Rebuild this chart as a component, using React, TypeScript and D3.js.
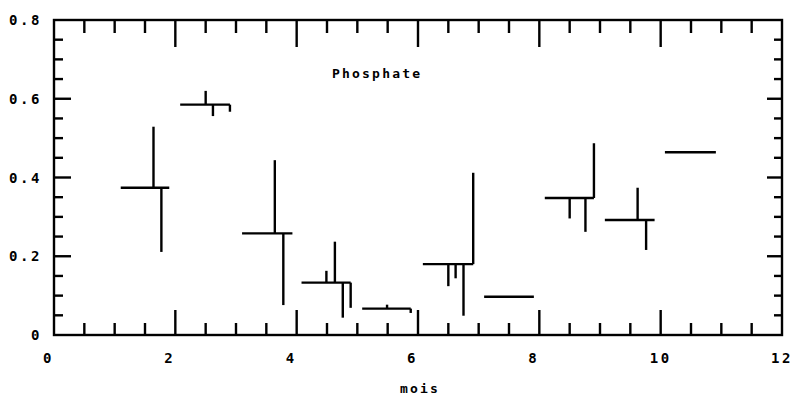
import React from "react";
import * as d3 from "d3";

const segStart = [1.1, 2.08, 3.1, 4.08, 5.08, 6.08, 7.09, 8.09, 9.08, 10.07];
const segEnd = [1.9, 2.9, 3.93, 4.89, 5.88, 6.91, 7.91, 8.9, 9.9, 10.91];
const segMean = [0.374, 0.585, 0.258, 0.133, 0.067, 0.18, 0.097, 0.348, 0.292, 0.464];

const spikeSeg = [0, 0, 1, 1, 1, 2, 2, 3, 3, 3, 3, 4, 4, 5, 5, 5, 5, 7, 7, 7, 8, 8];
const spikeX = [1.64, 1.77, 2.5, 2.62, 2.9, 3.64, 3.78, 4.49, 4.63, 4.76, 4.89, 5.49, 5.88, 6.91, 6.5, 6.62, 6.75, 8.9, 8.5, 8.76, 9.62, 9.76];
const spikeEnd = [0.529, 0.211, 0.62, 0.556, 0.567, 0.444, 0.076, 0.163, 0.237, 0.044, 0.069, 0.077, 0.056, 0.412, 0.124, 0.144, 0.049, 0.487, 0.296, 0.262, 0.374, 0.216];

const xTickLabels = ["0", "2", "4", "6", "8", "10", "12"];
const yTickLabels = ["0", "0.2", "0.4", "0.6", "0.8"];
const title = "Phosphate";
const xTitle = "mois";

export default function App() {
  const W = 792, H = 397;
  const x = d3.scaleLinear().domain([0, 12]).range([54, 782]);
  const y = d3.scaleLinear().domain([0, 0.8]).range([335, 20]);
  const sw = 2.4;
  const font = "'DejaVu Sans Mono', monospace";

  const xMinor = d3.range(0, 12.001, 0.5);
  const yMinor = d3.range(0, 0.8001, 0.05);

  const isMajorX = (v: number) => Math.abs(v / 2 - Math.round(v / 2)) < 1e-6;
  const isMajorY = (v: number) => Math.abs(v / 0.2 - Math.round(v / 0.2)) < 1e-6;

  return (
    <div style={{ position: "absolute", left: 0, top: 0 }}>
      <svg width={W} height={H} style={{ display: "block", background: "#fff" }}>
        <g stroke="#000" strokeWidth={sw} fill="none">
          <rect x={x(0)} y={y(0.8)} width={x(12) - x(0)} height={y(0) - y(0.8)} />
          {xMinor.map((v, i) => {
            if (v === 0 || v === 12) return null;
            const maj = isMajorX(v);
            const px = x(v);
            return (
              <g key={"xt" + i}>
                <line x1={px} x2={px} y1={y(0)} y2={y(0) - (maj ? 25 : 12)} />
                <line x1={px} x2={px} y1={y(0.8)} y2={y(0.8) + (maj ? 27 : 13)} />
              </g>
            );
          })}
          {yMinor.map((v, i) => {
            if (i === 0 || i === yMinor.length - 1) return null;
            const maj = isMajorY(v);
            const py = y(v);
            return (
              <g key={"yt" + i}>
                <line x1={x(0)} x2={x(0) + (maj ? 17 : 9)} y1={py} y2={py} />
                <line x1={x(12)} x2={x(12) - (maj ? 15 : 8)} y1={py} y2={py} />
              </g>
            );
          })}
        </g>
        <g stroke="#000" strokeWidth={sw} fill="none">
          {segMean.map((m, i) => (
            <line key={"s" + i} x1={x(segStart[i])} x2={x(segEnd[i])} y1={y(m)} y2={y(m)} />
          ))}
          {spikeX.map((sx, i) => (
            <line key={"k" + i} x1={x(sx)} x2={x(sx)} y1={y(segMean[spikeSeg[i]])} y2={y(spikeEnd[i])} />
          ))}
        </g>
        <g fontFamily={font} fontWeight="bold" fontSize={14} fill="#000">
          {yTickLabels.map((t, i) => (
            <text key={"yl" + i} x={42} y={y(+t) + 5} textAnchor="end" letterSpacing={2.6}>
              {t}
            </text>
          ))}
          {xTickLabels.map((t, i) => (
            <text key={"xl" + i} x={x(+t) - 11} y={363} textAnchor="start" letterSpacing={2.6}>
              {t}
            </text>
          ))}
          <text x={332} y={78} fontSize={13} letterSpacing={2.2}>{title}</text>
          <text x={400} y={393} fontSize={13} letterSpacing={2.2}>{xTitle}</text>
        </g>
      </svg>
    </div>
  );
}
